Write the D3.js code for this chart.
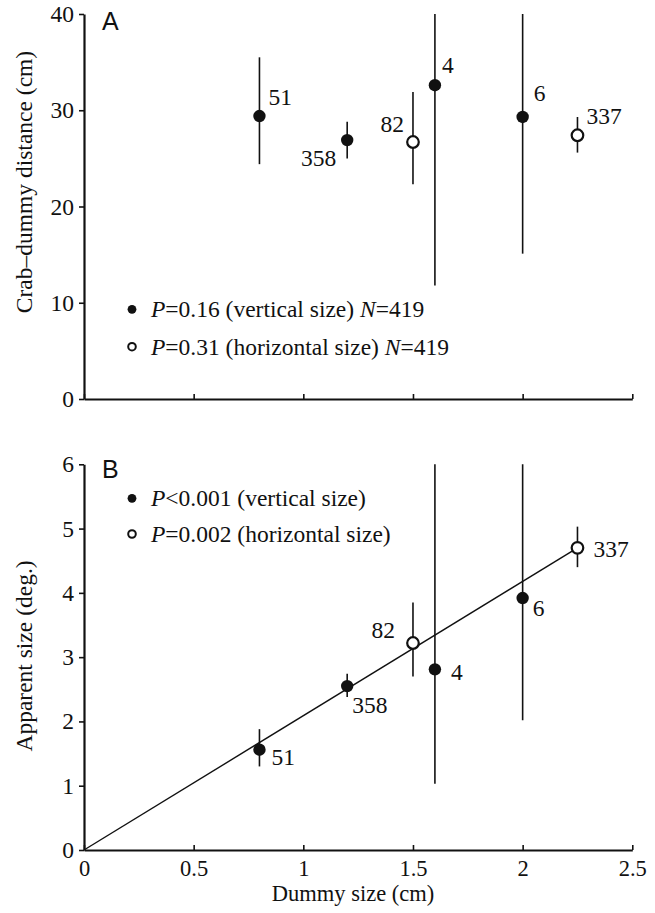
<!DOCTYPE html>
<html><head><meta charset="utf-8">
<script src="https://cdn.jsdelivr.net/npm/d3@7"></script>
<style>
body{margin:0;background:#fff;}
svg{display:block;}
text{font-family:"Liberation Serif","Times New Roman",serif;fill:#111;}
text.sans{font-family:"Liberation Sans",Arial,sans-serif;}
</style></head>
<body>
<script>
// ---- data ----
const dummySize = [0.8, 1.2, 1.5, 1.6, 2.0, 2.25];
const orientation = ["vertical","vertical","horizontal","vertical","vertical","horizontal"];
const sampleN = ["51","358","82","4","6","337"];
const distMean = [29.4, 26.9, 26.7, 32.6, 29.3, 27.4];
const distLow  = [24.4, 25.0, 22.3, 11.8, 15.1, 25.6];
const distHigh = [35.5, 28.8, 31.9, 40.0, 40.0, 29.3];
const appMean = [1.56, 2.55, 3.22, 2.81, 3.92, 4.70];
const appLow  = [1.30, 2.38, 2.70, 1.03, 2.02, 4.40];
const appHigh = [1.88, 2.74, 3.85, 6.0, 6.0, 5.03];
const regX = [0, 2.25];
const regY = [0, 4.70];
const xTicks = [0, 0.5, 1, 1.5, 2, 2.5];
const yTicksA = [0, 10, 20, 30, 40];
const yTicksB = [0, 1, 2, 3, 4, 5, 6];
const legendA = [["P","=0.16 (vertical size) ","N","=419"],["P","=0.31 (horizontal size) ","N","=419"]];
const legendB = [["P","<0.001 (vertical size)"],["P","=0.002 (horizontal size)"]];
// label offsets (style)
const labOffA = [[9,-11,"start"],[-11,26,"end"],[-9,-10,"end"],[7,-12,"start"],[11,-16,"start"],[9,-11,"start"]];
const labOffB = [[12,15,"start"],[5,27,"start"],[-18,-5,"end"],[16,11,"start"],[10,18,"start"],[16,9,"start"]];

const W = 655, H = 913;
const svg = d3.select("body").append("svg").attr("width", W).attr("height", H);
const x = d3.scaleLinear().domain([0, 2.5]).range([84, 632.3]);
const yA = d3.scaleLinear().domain([0, 40]).range([399, 14]);
const yB = d3.scaleLinear().domain([0, 6]).range([850, 464.3]);
const FS = 23.5;
const FSX = 22.5;

function panel(y, yTicks, mean, low, high, labOff, showX, xTitle, yTitle, yTitleY, letter, letterY, legend, legY) {
  const g = svg.append("g");
  const ya = g.append("g").attr("transform", `translate(${x(0)},0)`)
    .call(d3.axisLeft(y).tickValues(yTicks).tickSizeInner(5).tickSizeOuter(0).tickPadding(5).tickFormat(d3.format("")));
  const xa = g.append("g").attr("transform", `translate(0,${y(0)})`)
    .call(d3.axisBottom(x).tickValues(xTicks).tickSizeInner(-5).tickSizeOuter(0).tickPadding(10).tickFormat(showX ? d3.format("") : () => ""));
  [ya, xa].forEach(a => {
    a.select(".domain").attr("stroke", "#111").attr("stroke-width", 2.2);
    a.selectAll(".tick line").attr("stroke", "#111").attr("stroke-width", 1.6);
    a.selectAll(".tick text").attr("font-size", FS).attr("fill", "#111");
  });
  xa.selectAll(".tick text").attr("font-size", FSX);
  if (showX) {
    g.append("line").attr("x1", x(regX[0])).attr("y1", y(regY[0])).attr("x2", x(regX[1])).attr("y2", y(regY[1]))
      .attr("stroke", "#111").attr("stroke-width", 1.4);
  }
  dummySize.forEach((d, i) => {
    g.append("line").attr("x1", x(d)).attr("x2", x(d)).attr("y1", y(low[i])).attr("y2", y(high[i]))
      .attr("stroke", "#111").attr("stroke-width", 1.6);
  });
  dummySize.forEach((d, i) => {
    const open = orientation[i] === "horizontal";
    g.append("circle").attr("cx", x(d)).attr("cy", y(mean[i])).attr("r", open ? 5.8 : 6.2)
      .attr("fill", open ? "#fff" : "#111").attr("stroke", "#111").attr("stroke-width", open ? 2.2 : 0);
    g.append("text").attr("x", x(d) + labOff[i][0]).attr("y", y(mean[i]) + labOff[i][1])
      .attr("text-anchor", labOff[i][2]).attr("font-size", FS).text(sampleN[i]);
  });
  g.append("text").attr("class", "sans").attr("x", 102).attr("y", letterY)
    .attr("font-size", 25).text(letter);
  legend.forEach((parts, j) => {
    const cy = legY[j];
    const open = j === 1;
    g.append("circle").attr("cx", 132).attr("cy", cy).attr("r", open ? 3.8 : 4.4)
      .attr("fill", open ? "#fff" : "#111").attr("stroke", "#111").attr("stroke-width", open ? 2 : 0);
    const t = g.append("text").attr("x", 151).attr("y", cy + 8).attr("font-size", FS);
    parts.forEach((p, k) => {
      t.append("tspan").attr("font-style", k % 2 === 0 ? "italic" : "normal").text(p);
    });
  });
  g.append("text").attr("transform", `translate(32,${yTitleY}) rotate(-90)`).attr("text-anchor", "middle")
    .attr("font-size", FS).text(yTitle);
  if (xTitle) {
    g.append("text").attr("x", 353).attr("y", 901).attr("text-anchor", "middle").attr("font-size", FSX).text(xTitle);
  }
}

panel(yA, yTicksA, distMean, distLow, distHigh, labOffA, false, null, "Crab–dummy distance (cm)", 182, "A", 30, legendA, [309.3, 346.7]);
panel(yB, yTicksB, appMean, appLow, appHigh, labOffB, true, "Dummy size (cm)", "Apparent size (deg.)", 656, "B", 478, legendB, [498.3, 534]);
</script>
</body></html>
